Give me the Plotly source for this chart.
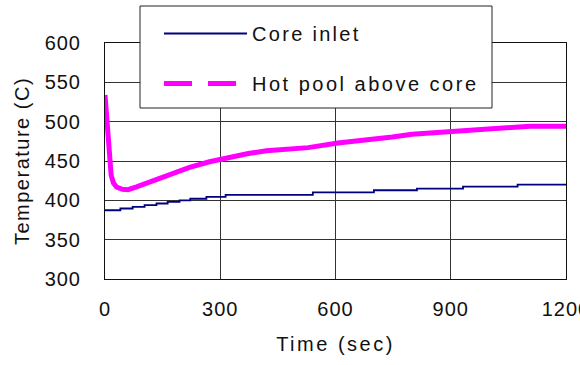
import plotly.graph_objects as go

# ---- data ----
core_t = [0, 40, 72, 103, 134, 163, 194, 222, 264, 314, 541, 700, 812, 932, 1074, 1200]
core_T = [387.4, 389.6, 391.6, 393.8, 396, 398, 400, 402, 404.3, 407, 410, 412.8, 415, 417.5, 420, 420]

hot_t = [0, 3, 6, 10, 16, 22, 30, 45, 60, 82, 116, 168, 220, 272, 322, 373, 420, 477, 529,
         606, 684, 748, 799, 864, 931, 1015, 1106, 1200]
hot_T = [534, 515, 478, 455, 432, 422, 417, 414, 413.5, 417, 423, 432, 442, 449, 455, 459.5, 463,
         465, 467, 473, 476.5, 480.5, 484, 486, 488, 491, 494.3, 494.3]

x_ticks = [0, 300, 600, 900, 1200]
y_ticks = [300, 350, 400, 450, 500, 550, 600]

names = ["Core inlet", "Hot pool above core"]

FONT = "Liberation Sans, Arial, sans-serif"

def spaced(s, px):
    return f'<span style="letter-spacing:{px}px">{s}</span>'

fig = go.Figure()
fig.add_trace(go.Scatter(x=core_t, y=core_T, mode="lines", line=dict(color="#000080", width=1.8, shape="hv"),
                         name=spaced(names[0], 2.3), legendgroup="a"))
fig.add_trace(go.Scatter(x=hot_t, y=hot_T, mode="lines", line=dict(color="#FF00FF", width=5),
                         showlegend=False, legendgroup="b"))
fig.add_trace(go.Scatter(x=[None], y=[None], mode="lines",
                         line=dict(color="#FF00FF", width=5, dash="28px,16px"),
                         name=spaced(names[1], 2.5), legendgroup="b"))

L, R, T, B = 105, 14, 43, 86
W = 580 - L - R
H = 365 - T - B

def px2x(p):
    return (p - L) / W

def py2y(p):
    return 1 - (p - T) / H

fig.add_shape(type="rect", xref="paper", yref="paper",
              x0=px2x(140), x1=px2x(492), y0=py2y(108), y1=py2y(6),
              fillcolor="white", line=dict(color="#222", width=1), layer="above")

fig.update_layout(
    width=580, height=365,
    margin=dict(l=L, r=R, t=T, b=B, autoexpand=False),
    paper_bgcolor="white", plot_bgcolor="white",
    font=dict(family=FONT, size=20, color="#111"),
    showlegend=True,
    legend=dict(x=px2x(159), y=py2y(14), xanchor="left", yanchor="top",
                bgcolor="rgba(0,0,0,0)", borderwidth=0, itemwidth=83,
                tracegroupgap=21, font=dict(size=20, family=FONT, color="#111"),
                traceorder="grouped"),
    xaxis=dict(range=[0, 1200.01], tickvals=x_ticks, ticktext=[spaced(str(v), 1) for v in x_ticks],
               showgrid=True, gridcolor="#333", gridwidth=1, automargin=False,
               showline=True, linecolor="#111", linewidth=1, mirror=True,
               ticks="", ticklabelstandoff=12, zeroline=False, ticklabeloverflow="allow",
               title=dict(text=spaced("Time (sec)", 2.5), standoff=17, font=dict(size=20))),
    yaxis=dict(range=[300, 600], tickvals=y_ticks, ticktext=[spaced(str(v), 1) for v in y_ticks],
               showgrid=True, gridcolor="#333", gridwidth=1, automargin=False,
               showline=True, linecolor="#111", linewidth=1, mirror=True,
               ticks="", ticklabelstandoff=19, zeroline=False,
               title=dict(text=spaced("Temperature (C)", 1.5), standoff=9, font=dict(size=20))),
)

fig.write_html("out.html")
